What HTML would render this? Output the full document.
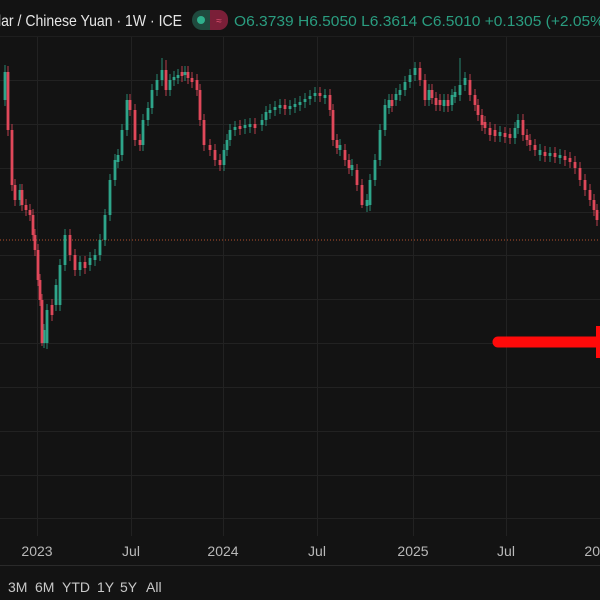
<!DOCTYPE html>
<html><head><meta charset="utf-8"><style>
html,body{margin:0;padding:0;background:#131313;width:600px;height:600px;overflow:hidden}
svg{display:block}
text{font-family:"Liberation Sans",sans-serif}
</style></head><body>
<svg width="600" height="600" viewBox="0 0 600 600" xmlns="http://www.w3.org/2000/svg">
<rect width="600" height="600" fill="#131313"/>
<g stroke="#222" stroke-width="1">
<line x1="0" x2="600" y1="80.5" y2="80.5"/><line x1="0" x2="600" y1="124.5" y2="124.5"/>
<line x1="0" x2="600" y1="168.5" y2="168.5"/><line x1="0" x2="600" y1="212.5" y2="212.5"/>
<line x1="0" x2="600" y1="255.5" y2="255.5"/><line x1="0" x2="600" y1="299.5" y2="299.5"/>
<line x1="0" x2="600" y1="343.5" y2="343.5"/><line x1="0" x2="600" y1="387.5" y2="387.5"/>
<line x1="0" x2="600" y1="431.5" y2="431.5"/><line x1="0" x2="600" y1="475.5" y2="475.5"/>
<line x1="0" x2="600" y1="518.5" y2="518.5"/>
<line x1="37.5" x2="37.5" y1="36" y2="536"/><line x1="131.5" x2="131.5" y1="36" y2="536"/>
<line x1="223.5" x2="223.5" y1="36" y2="536"/><line x1="317.5" x2="317.5" y1="36" y2="536"/>
<line x1="413.5" x2="413.5" y1="36" y2="536"/><line x1="506.5" x2="506.5" y1="36" y2="536"/>
</g>
<line x1="0" x2="600" y1="240" y2="240" stroke="#b5522e" stroke-width="1" stroke-dasharray="1,2"/>

<path fill="none" stroke="#2ea58a" stroke-width="2.8" d="M5 72V100M20 190V200M44 330V343M47 310V343M56 285V305M60 265V305M65 235V265M80 262V270M90 258V265M95 255V260M100 240V255M105 215V240M110 180V215M115 160V180M118 155V162M122 130V155M127 100V130M143 120V145M148 108V120M152 90V108M157 80V90M162 70V80M170 80V90M174 77V80M178 75V78M185 72V75M224 150V165M227 140V150M230 130V140M235 127V130M245 125V128M250 124V127M262 120V125M266 112V120M270 110V113M275 107V110M280 105V108M290 106V109M295 104V107M300 102V105M305 99V102M310 96V99M315 93V96M325 95V98M340 145V150M352 165V170M367 200V206M370 180V205M375 160V180M380 130V160M385 105V130M389 100V108M396 94V100M400 90V95M405 82V90M410 75V82M415 68V75M429 90V100M444 100V106M452 95V105M455 92V97M460 85V95M465 78V85M500 132V136M515 128V138M518 120V128M540 150V155M550 153V156M560 155V158"/>
<path fill="none" stroke="#2ea58a" stroke-width="0.8" d="M5 65V106M20 184V206M44 324V348M47 304V349M56 279V311M60 259V311M65 229V271M80 256V276M90 252V271M95 249V266M100 234V261M105 209V246M110 174V221M115 154V186M118 149V168M122 124V161M127 94V136M143 114V151M148 102V126M152 84V114M157 74V96M162 58V86M170 74V96M174 71V86M178 69V84M185 66V81M224 144V171M227 134V156M230 124V146M235 121V136M245 119V134M250 118V133M262 114V131M266 106V126M270 104V119M275 101V116M280 99V114M290 100V115M295 98V113M300 96V111M305 93V108M310 90V105M315 87V102M325 89V104M340 139V156M352 159V176M367 194V212M370 174V211M375 154V186M380 124V166M385 99V136M389 94V114M396 88V106M400 84V101M405 76V96M410 69V88M415 62V81M429 84V106M444 94V112M452 89V111M455 86V103M460 58V101M465 72V91M500 126V142M515 122V144M518 114V134M540 144V161M550 147V162M560 149V164"/>
<path fill="none" stroke="#e0485a" stroke-width="2.8" d="M8 72V130M12 130V185M15 185V200M22 190V205M26 205V210M30 210V215M33 215V235M35 235V250M38 250V280M40 280V300M42 300V343M52 305V315M70 235V255M75 255V270M85 262V268M130 100V110M135 110V140M140 140V145M166 70V90M182 72V76M188 72V78M192 78V82M197 80V90M200 90V120M204 120V145M210 145V150M215 150V160M220 160V165M240 126V129M255 124V128M285 105V109M320 93V96M330 95V110M333 110V140M337 140V148M345 150V160M349 160V168M357 170V185M362 185V205M392 100V106M420 68V80M425 80V100M432 90V98M436 98V105M440 100V105M448 100V106M470 80V95M475 95V105M478 105V115M482 115V125M485 122V128M490 128V135M495 130V136M505 133V137M510 134V138M523 120V135M527 135V140M530 140V145M535 145V150M545 152V156M555 153V157M565 156V160M570 158V162M575 162V168M580 168V180M585 180V190M590 190V200M594 200V210M597 210V220"/>
<path fill="none" stroke="#e0485a" stroke-width="0.8" d="M8 66V136M12 124V191M15 179V206M22 184V211M26 199V216M30 204V221M33 209V241M35 229V256M38 244V286M40 274V306M42 294V346M52 299V321M70 229V261M75 249V276M85 256V274M130 94V116M135 104V146M140 134V151M166 60V96M182 66V82M188 66V84M192 72V88M197 74V96M200 84V126M204 114V151M210 139V156M215 144V166M220 154V171M240 120V135M255 118V134M285 99V115M320 87V102M330 89V116M333 104V146M337 134V154M345 144V166M349 154V174M357 164V191M362 179V208M392 94V112M420 62V86M425 74V106M432 84V104M436 92V111M440 94V111M448 94V112M470 74V101M475 89V111M478 99V121M482 109V131M485 116V134M490 122V141M495 124V142M505 127V143M510 128V144M523 114V141M527 129V146M530 134V151M535 139V156M545 146V162M555 147V163M565 150V166M570 152V168M575 156V174M580 162V186M585 174V196M590 184V206M594 194V216M597 204V226"/>

<line x1="0" x2="600" y1="565.5" y2="565.5" stroke="#2a2a2a"/>
<line x1="0" x2="600" y1="36.5" y2="36.5" stroke="#1e1e1e"/>
<g fill="#b9b9b9" font-size="14" text-anchor="middle">
<text x="37" y="556">2023</text><text x="131" y="556">Jul</text><text x="223" y="556">2024</text>
<text x="317" y="556">Jul</text><text x="413" y="556">2025</text><text x="506" y="556">Jul</text>
<text x="600" y="556">2026</text>
</g>
<g fill="#c8c8c8" font-size="14">
<text x="8" y="592">3M</text><text x="35" y="592">6M</text><text x="62" y="592">YTD</text>
<text x="97" y="592">1Y</text><text x="120" y="592">5Y</text><text x="146" y="592">All</text>
</g>
<text x="-2" y="26" fill="#e6e6e6" font-size="16" textLength="184" lengthAdjust="spacingAndGlyphs">lar / Chinese Yuan · 1W · ICE</text>
<rect x="192" y="10" width="36" height="20" rx="10" fill="#1f4a3e"/>
<rect x="210" y="10" width="18" height="20" rx="9" fill="#7a1f38"/>
<rect x="210" y="10" width="8" height="20" fill="#7a1f38"/>
<circle cx="201" cy="20" r="4" fill="#2fb08c"/>
<text x="219" y="24" fill="#e05070" font-size="10" text-anchor="middle">≈</text>
<text x="234" y="26" fill="#2a9d80" font-size="15" textLength="370" lengthAdjust="spacingAndGlyphs">O6.3739 H6.5050 L6.3614 C6.5010 +0.1305 (+2.05%</text>
<line x1="498" y1="342" x2="600" y2="342" stroke="#ff0a0a" stroke-width="11" stroke-linecap="round"/>
<polygon points="596,326 600,326 600,358 596,358" fill="#ff0a0a"/>
</svg>
</body></html>
